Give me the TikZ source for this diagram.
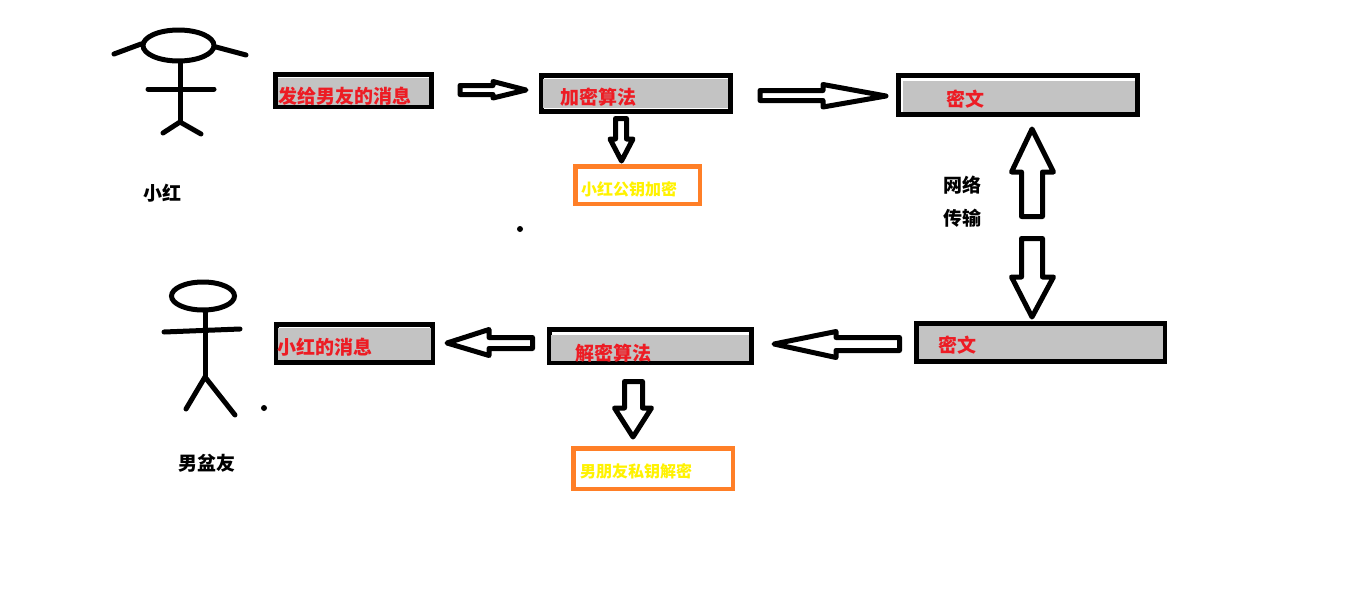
\documentclass[tikz,border=0pt]{standalone}
\usepackage{fontspec}
\setmainfont{Noto Sans CJK SC}
\definecolor{pgray}{HTML}{C3C3C3}
\definecolor{pred}{HTML}{ED1C24}
\definecolor{pyellow}{HTML}{FFF200}
\definecolor{porange}{HTML}{FF7F27}
\tikzset{
  darkbox/.style={draw=black,line width=5pt,fill=white,inner sep=0pt,outer sep=0pt},
  keybox/.style={draw=porange,line width=4.5pt,fill=white,inner sep=0pt,outer sep=0pt},
  redtext/.style={text=pred,inner sep=0pt,font=\fontsize{19}{19}\selectfont\bfseries},
  yellowtext/.style={text=pyellow,inner sep=0pt,font=\fontsize{16}{16}\selectfont\bfseries},
  blacktext/.style={text=black,inner sep=0pt,font=\fontsize{19}{19}\selectfont\bfseries},
  blockarrow/.style={draw=black,fill=white,line width=5pt,line join=round},
  stick/.style={draw=black,line width=5pt,line cap=round},
}
% name, outer x1,y1,x2,y2, inner x1,y1,x2,y2
\newcommand{\grayrect}[9]{%
  \node[darkbox,minimum width={(#4-#2-5)*1pt},minimum height={(#5-#3-5)*1pt}] (#1) at ({(#2+#4)/2},{(#3+#5)/2}) {};
  \fill[pgray] (#6,#7) rectangle (#8,#9);
}
\begin{document}
\begin{tikzpicture}[x=1pt,y=-1pt]
\useasboundingbox[fill=white] (0,0) rectangle (1368,592);

% figure 1
\draw[stick] (178.5,45.5) ellipse [x radius=35.5,y radius=15.5];
\draw[stick] (114,54) -- (141,44);
\draw[stick] (216,47) -- (246,55);
\draw[stick] (180,63) -- (180,122);
\draw[stick] (148,89) -- (214,89);
\draw[stick] (163,133) -- (180,122) -- (201,134);
\node[blacktext] (xh) at (162,193) {小红};

% figure 2
\draw[stick] (203,296) ellipse [x radius=31.5,y radius=14];
\draw[stick] (205,311) -- (205,377);
\draw[stick] (164,332) -- (240,329);
\draw[stick] (186,409) -- (205,377) -- (235,415);
\node[blacktext] (nf) at (206.5,463) {男盆友};

% boxes
\grayrect{b1}{273}{72}{434}{109}{278}{78}{429}{105}
\grayrect{b2}{539}{73}{733}{114}{543}{79}{728}{108}
\grayrect{b3}{896}{73}{1140}{117}{903}{81}{1135}{112}
\grayrect{b4}{914}{321}{1167}{364}{919}{326}{1163}{359}
\grayrect{b5}{547}{327}{754}{365}{551}{335}{749}{361}
\grayrect{b6}{274}{322}{435}{365}{278}{328}{431}{360}
\node[keybox,minimum width=124.5pt,minimum height=37.5pt] (k1) at (637.5,185) {};
\node[keybox,minimum width=159.5pt,minimum height=40.5pt] (k2) at (653,468.5) {};

% box labels
\node[redtext] (t1) at (344.5,96) {发给男友的消息};
\node[redtext] (t2) at (598,97) {加密算法};
\node[redtext] (t3) at (965,99) {密文};
\node[redtext] (t4) at (957,345) {密文};
\node[redtext] (t5) at (613,353) {解密算法};
\node[redtext] (t6) at (325,347) {小红的消息};
\node[yellowtext] (t7) at (629,189) {小红公钥加密};
\node[yellowtext] (t8) at (636,471) {男朋友私钥解密};
\node[blacktext] (n1) at (962,185) {网络};
\node[blacktext] (n2) at (962,218) {传输};

% block arrows
\draw[blockarrow] (460,85.5) -- (493,85.5) -- (493,81.5) -- (526,90) -- (493,98) -- (493,94.5) -- (460,94.5) -- cycle;
\draw[blockarrow] (760,90.5) -- (823,90.5) -- (823,84.5) -- (886,96) -- (823,107) -- (823,100.5) -- (760,100.5) -- cycle;
\draw[blockarrow] (615.5,118.5) -- (626.5,118.5) -- (626.5,139) -- (633,139) -- (621.5,161) -- (610,139) -- (615.5,139) -- cycle;
\draw[blockarrow] (1032,129) -- (1053.5,172) -- (1042.5,172) -- (1042.5,216.5) -- (1021.5,216.5) -- (1021.5,172) -- (1011.5,172) -- cycle;
\draw[blockarrow] (1021.5,238.5) -- (1042.5,238.5) -- (1042.5,277) -- (1053.5,277) -- (1032,317) -- (1011.5,277) -- (1021.5,277) -- cycle;
\draw[blockarrow] (774,344) -- (836,331.5) -- (836,337.5) -- (899.5,337.5) -- (899.5,350.5) -- (836,350.5) -- (836,357.5) -- cycle;
\draw[blockarrow] (447,343) -- (489,329.5) -- (489,337.5) -- (532.5,337.5) -- (532.5,348.5) -- (489,348.5) -- (489,355.5) -- cycle;
\draw[blockarrow] (624.5,381.5) -- (642.5,381.5) -- (642.5,408) -- (651.5,408) -- (633,437) -- (614.5,408) -- (624.5,408) -- cycle;

% stray dots
\fill[black] (520,229) circle (3);
\fill[black] (264,408) circle (3);
\end{tikzpicture}
\end{document}
